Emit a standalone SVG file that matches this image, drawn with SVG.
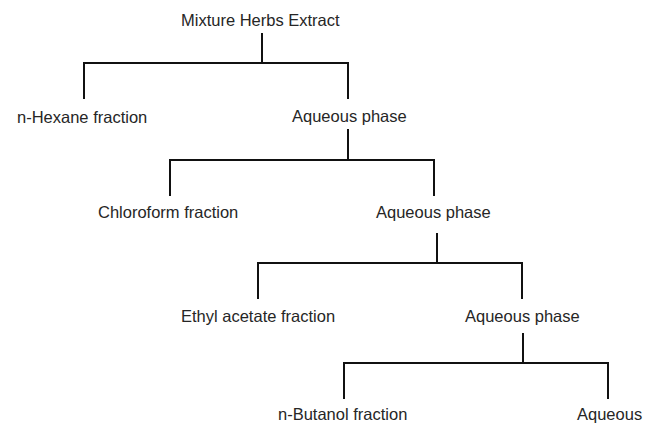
<svg xmlns="http://www.w3.org/2000/svg" width="653" height="423" viewBox="0 0 653 423">
<style>
.t{font-family:"Liberation Sans",Arial,sans-serif;font-size:16.5px;fill:#262626}
.c{fill:none;stroke:#111;stroke-width:2}
</style>
<rect width="653" height="423" fill="#fff"/>
<g id="connectors">
<path class="c" d="M262,33V63M84,99V63H348V99"/>
<path class="c" d="M348,129V160M170,196V160H434V196"/>
<path class="c" d="M437,233V263M258,299V263H522V299"/>
<path class="c" d="M523,333V363M344,399V363H608V399"/>
</g>
<g id="n0"><text class="t" x="181" y="26">Mixture Herbs Extract</text></g>
<g id="n1"><text class="t" x="17" y="123">n-Hexane fraction</text></g>
<g id="n2"><text class="t" x="292" y="122">Aqueous phase</text></g>
<g id="n3"><text class="t" x="98" y="218">Chloroform fraction</text></g>
<g id="n4"><text class="t" x="376" y="218">Aqueous phase</text></g>
<g id="n5"><text class="t" x="181" y="322">Ethyl acetate fraction</text></g>
<g id="n6"><text class="t" x="465" y="322">Aqueous phase</text></g>
<g id="n7"><text class="t" x="278" y="420">n-Butanol fraction</text></g>
<g id="n8"><text class="t" x="577" y="420">Aqueous</text></g>
</svg>
